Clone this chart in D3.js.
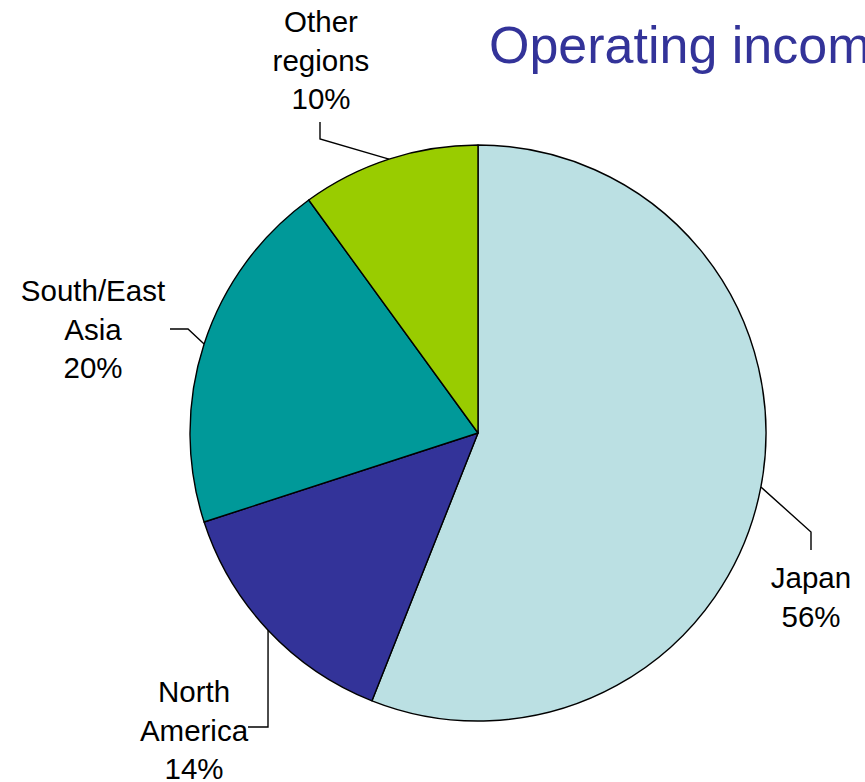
<!DOCTYPE html>
<html>
<head>
<meta charset="utf-8">
<script src="https://cdn.jsdelivr.net/npm/d3@7"></script>
<style>
  html, body { margin: 0; padding: 0; background: #fff; overflow: hidden; }
  svg { display: block; font-family: "Liberation Sans", Arial, sans-serif; }
</style>
</head>
<body>
<svg id="chart" width="865" height="782"></svg>
<script>
// ---- data ----
const regions = ["Japan", "North America", "South/East Asia", "Other regions"];
const shares = [56, 14, 20, 10];
const labelLines = [["Japan"], ["North", "America"], ["South/East", "Asia"], ["Other", "regions"]];
const colors = ["#BBE0E3", "#333399", "#009999", "#99CC00"];
const title = "Operating income by region";

// ---- label layout (annotation positions) ----
const labelLayout = [
  { x: 811, y: 588, leader: [[811, 532], [811, 550]] },
  { x: 194, y: 702, leader: [[268, 727], [248, 727]] },
  { x: 93,  y: 301, leader: [[188, 329], [170, 329]] },
  { x: 321, y: 32,  leader: [[320, 139], [320, 122]] }
];

const svg = d3.select("#chart");
const cx = 478, cy = 433, R = 288;

const data = regions.map((r, i) => ({ region: r, value: shares[i], lines: labelLines[i], color: colors[i], layout: labelLayout[i] }));

const pie = d3.pie().value(d => d.value).sort(null);
const arc = d3.arc().innerRadius(0).outerRadius(R);
const arcs = pie(data);

const g = svg.append("g").attr("transform", `translate(${cx},${cy})`);

g.selectAll("path.slice")
  .data(arcs)
  .join("path")
  .attr("class", "slice")
  .attr("d", arc)
  .attr("fill", d => d.data.color)
  .attr("stroke", "#000")
  .attr("stroke-width", 1.4)
  .attr("stroke-linejoin", "round");

// leader lines
const line = d3.line();
arcs.forEach(a => {
  const mid = (a.startAngle + a.endAngle) / 2;
  const px = cx + R * Math.sin(mid);
  const py = cy - R * Math.cos(mid);
  const pts = [[px, py]].concat(a.data.layout.leader);
  svg.append("path")
    .attr("d", line(pts))
    .attr("fill", "none")
    .attr("stroke", "#000")
    .attr("stroke-width", 1.4);
});

// labels
const lineH = 38.5;
arcs.forEach(a => {
  const lay = a.data.layout;
  const t = svg.append("text")
    .attr("text-anchor", "middle")
    .attr("font-size", 29.5)
    .attr("fill", "#000");
  const allLines = a.data.lines.concat([a.data.value + "%"]);
  allLines.forEach((s, i) => {
    t.append("tspan").attr("x", lay.x).attr("y", lay.y + i * lineH).text(s);
  });
});

// title
svg.append("text")
  .attr("x", 489)
  .attr("y", 63)
  .attr("font-size", 52)
  .attr("fill", "#333399")
  .text(title);
</script>
</body>
</html>
